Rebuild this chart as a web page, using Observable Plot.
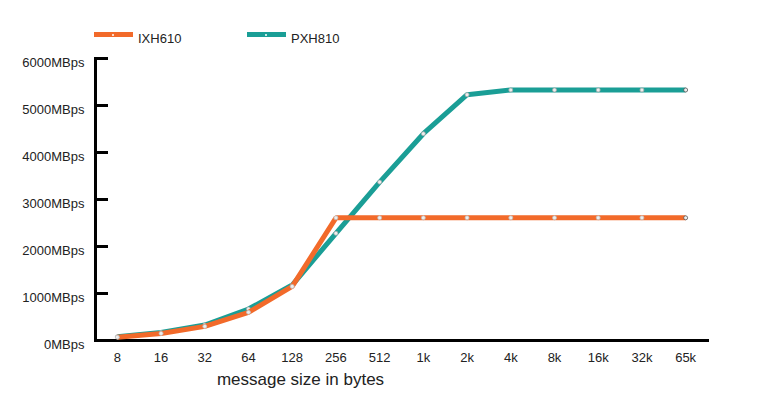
<!DOCTYPE html>
<html>
<head>
<meta charset="utf-8">
<script src="https://cdn.jsdelivr.net/npm/d3@7"></script>
<script src="https://cdn.jsdelivr.net/npm/@observablehq/plot@0.6"></script>
<style>
  html, body { margin: 0; padding: 0; background: #fff; }
  body { width: 778px; height: 411px; overflow: hidden; font-family: "Liberation Sans", Arial, sans-serif; color: #333; }
  #legend { position: relative; width: 778px; height: 50px; }
  .sw { position: absolute; height: 5px; width: 39px; top: 32px; }
  .sw::after { content: ""; position: absolute; left: 18px; top: 1.5px; width: 2px; height: 2px; border-radius: 1px; background: #fff; }
  .lb { position: absolute; top: 31px; font-size: 13px; line-height: 16px; color: #222; }
  svg { display: block; }
</style>
</head>
<body>
<div id="legend"></div>
<div id="chart"></div>
<script>
const sizes = ["8","16","32","64","128","256","512","1k","2k","4k","8k","16k","32k","65k"];
const seriesNames = ["IXH610", "PXH810"];
const ixh610 = [70, 150, 300, 600, 1150, 2610, 2610, 2610, 2610, 2610, 2610, 2610, 2610, 2610];
const pxh810 = [80, 170, 330, 670, 1180, 2280, 3370, 4400, 5230, 5330, 5330, 5330, 5330, 5330];
const yTicks = [0, 1000, 2000, 3000, 4000, 5000, 6000];
const colors = ["#f26a2a", "#1a9e96"];

const table = [];
[ixh610, pxh810].forEach((vals, si) => {
  vals.forEach((v, i) => table.push({series: seriesNames[si], size: sizes[i], value: v, last: i === vals.length - 1}));
});

// legend
const legend = document.getElementById("legend");
const legendPos = [94, 247];
seriesNames.forEach((name, i) => {
  const sw = document.createElement("div");
  sw.className = "sw";
  sw.style.left = legendPos[i] + "px";
  sw.style.background = colors[i];
  legend.appendChild(sw);
  const lb = document.createElement("div");
  lb.className = "lb";
  lb.style.left = (legendPos[i] + 44) + "px";
  lb.textContent = name;
  legend.appendChild(lb);
});

const W = 778, ML = 95, MR = 71;
const frameW = W - ML - MR;

const chart = Plot.plot({
  width: W,
  height: 361,
  marginTop: 8,
  marginBottom: 71,
  marginLeft: ML,
  marginRight: MR,
  style: {fontFamily: "Liberation Sans, Arial, sans-serif", fontSize: "13px", color: "#222", background: "#fff"},
  x: {type: "point", domain: sizes, padding: 0.5, round: false, label: null},
  y: {domain: [0, 6000], label: null},
  color: {domain: seriesNames, range: colors},
  marks: [
    Plot.axisY(yTicks, {tickSize: 0, tickPadding: 11, dy: 4, tickFormat: d => d + "MBps", fontSize: 13, fill: "#222", label: null}),
    Plot.axisX({tickSize: 0, tickPadding: 12, fontSize: 13, fill: "#222", label: null}),
    Plot.ruleY(yTicks, {y: d => d, insetRight: frameW - 13, stroke: "#000", strokeWidth: 3}),
    Plot.frame({anchor: "left", stroke: "#000", strokeWidth: 3}),
    Plot.frame({anchor: "bottom", stroke: "#000", strokeWidth: 3}),
    Plot.line(table.filter(d => d.series === "PXH810"), {x: "size", y: "value", stroke: "series", strokeWidth: 5, strokeLinecap: "butt", strokeLinejoin: "miter"}),
    Plot.dot(table.filter(d => d.series === "PXH810"), {x: "size", y: "value", r: 2, fill: "#eee", stroke: d => d.last ? "#555" : "#aaa", strokeWidth: 0.8}),
    Plot.line(table.filter(d => d.series === "IXH610"), {x: "size", y: "value", stroke: "series", strokeWidth: 5, strokeLinecap: "butt", strokeLinejoin: "miter"}),
    Plot.dot(table.filter(d => d.series === "IXH610"), {x: "size", y: "value", r: 2, fill: "#eee", stroke: d => d.last ? "#555" : "#bbb", strokeWidth: 0.8}),
    Plot.text(["message size in bytes"], {frameAnchor: "bottom", dx: -101, dy: 44, fontSize: 17, fill: "#222"})
  ]
});
document.getElementById("chart").appendChild(chart);
</script>
</body>
</html>
